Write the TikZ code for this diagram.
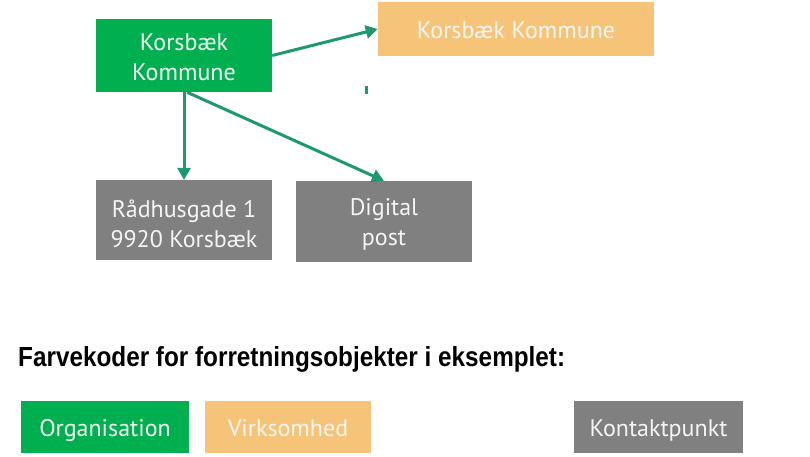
\documentclass[tikz,border=0pt]{standalone}
\usepackage{fontspec}
\setmainfont{PT Sans}
\newfontfamily\titlefont{Liberation Sans}
\usetikzlibrary{arrows.meta}
\definecolor{orggreen}{RGB}{0,176,80}
\definecolor{virkorange}{RGB}{245,196,120}
\definecolor{kontgrey}{RGB}{128,128,128}
\definecolor{arrowc}{RGB}{30,152,112}
\definecolor{boxtext}{RGB}{242,246,242}
\begin{document}
\begin{tikzpicture}[x=1pt,y=-1pt,
  box/.style={inner sep=0pt, text=boxtext, align=center, font=\fontsize{24}{30}\selectfont},
  txt/.style={inner sep=0pt, text=boxtext, align=center, font=\fontsize{24}{30}\selectfont},
  oneline/.style={text height=21pt, text depth=2pt},
  conn/.style={draw=arrowc, line width=3pt, -{Triangle[length=12pt,width=13pt]}}]
\useasboundingbox[fill=white] (0,0) rectangle (810,456);
\node[box, fill=orggreen, minimum width=176pt, minimum height=73pt] (org) at (184,55.5) {};
\node[txt] (orgtext) at ([yshift=-2pt]org.center) {Korsbæk\\Kommune};
\node[box, oneline, fill=virkorange, minimum width=276pt, minimum height=54pt] (virk) at (516,29) {Korsbæk Kommune};
\node[box, fill=kontgrey, minimum width=176pt, minimum height=80pt] (addr) at (184,220) {};
\node[txt] (addrtext) at ([yshift=-4pt]addr.center) {Rådhusgade 1\\9920 Korsbæk};
\node[box, fill=kontgrey, minimum width=176pt, minimum height=81pt] (digi) at (384,221.5) {};
\node[txt] (digitext) at ([yshift=-3pt]digi.center) {Digital\\post};
\draw[conn] (org.east) -- (virk.west);
\draw[conn] (org.south) -- (addr.north);
\draw[conn] ([xshift=3pt]org.south) -- (digi.north);
\node[fill=arrowc, inner sep=0pt, minimum width=3pt, minimum height=8pt] (mark) at (366,90) {};
\node[inner sep=0pt, anchor=base west] (title) at (18,366) {\resizebox{547pt}{20pt}{\titlefont\bfseries Farvekoder for forretningsobjekter i eksemplet:}};
\node[box, oneline, fill=orggreen, minimum width=168pt, minimum height=52pt] (lorg) at (105,427) {Organisation};
\node[box, oneline, fill=virkorange, minimum width=166pt, minimum height=52pt] (lvirk) at (288,427) {Virksomhed};
\node[box, oneline, fill=kontgrey, minimum width=169pt, minimum height=52pt] (lkont) at (658.5,427) {Kontaktpunkt};
\end{tikzpicture}
\end{document}
